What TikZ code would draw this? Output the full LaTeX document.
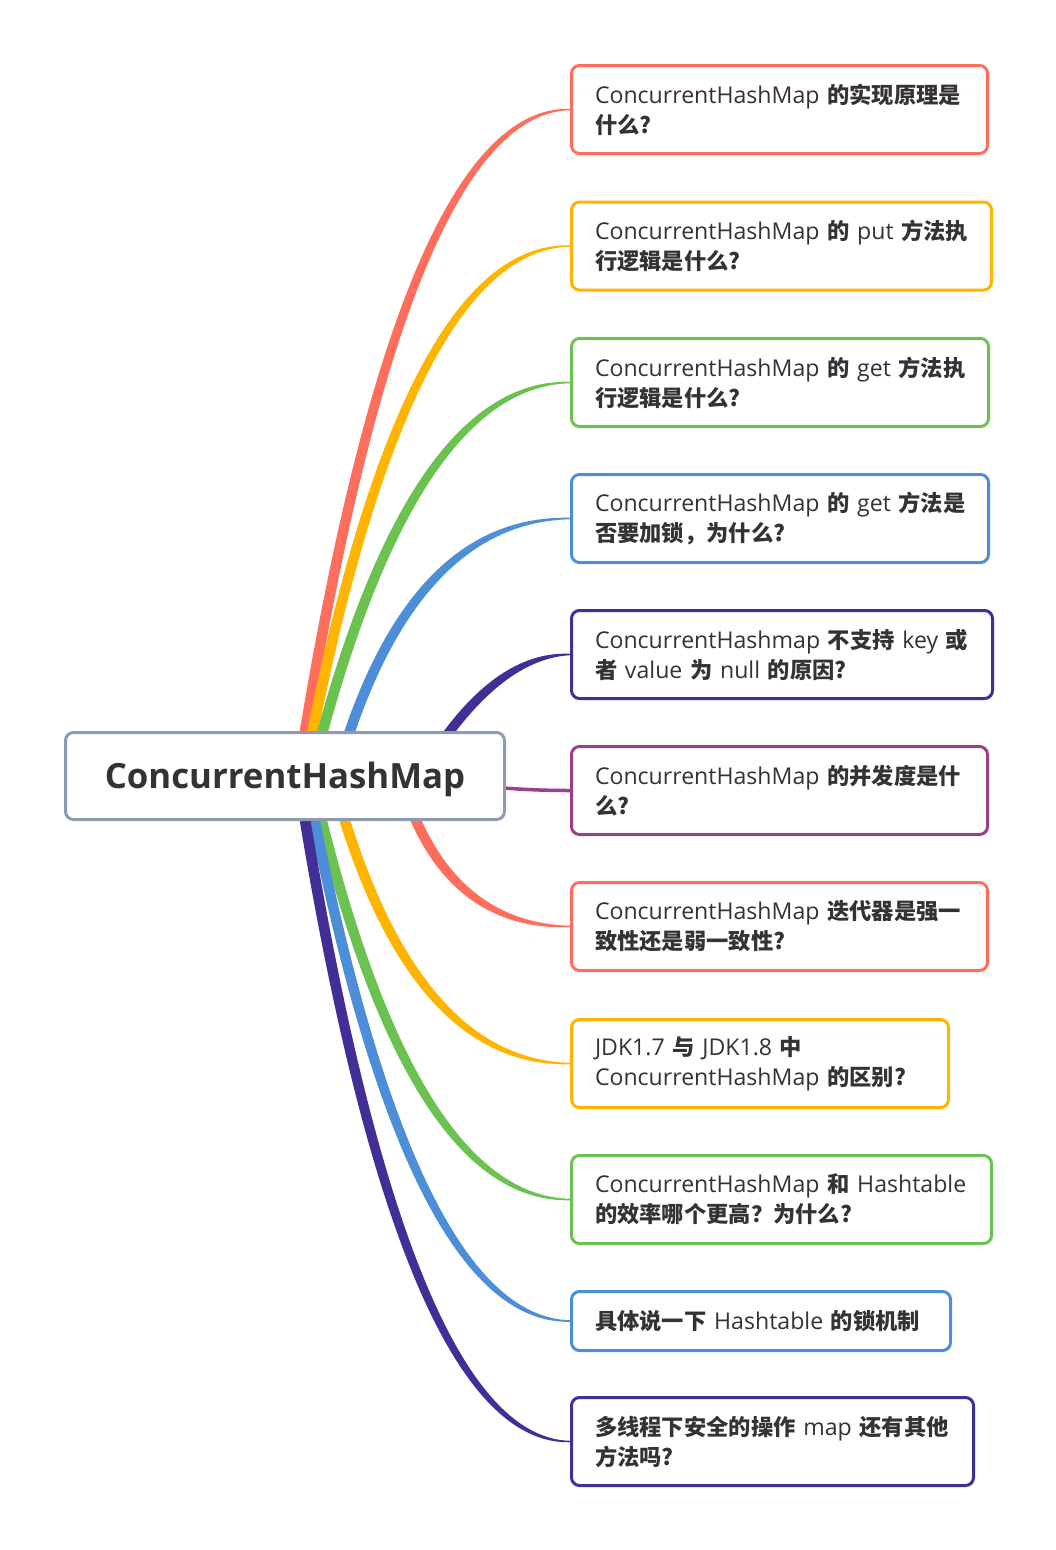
\documentclass[tikz,border=0pt]{standalone}
\usepackage{fontspec}
\setmainfont{Open Sans}
\newfontfamily\cjk{Noto Sans CJK SC}[Scale=0.965]
\usetikzlibrary{calc,backgrounds}
\definecolor{cred}{HTML}{FF6E5D}
\definecolor{cyellow}{HTML}{FFB400}
\definecolor{cgreen}{HTML}{6CC251}
\definecolor{cblue}{HTML}{4D8ED9}
\definecolor{cpurple}{HTML}{422E96}
\definecolor{cmagenta}{HTML}{9A4088}
\definecolor{rootc}{HTML}{8C9BB0}
\definecolor{textc}{HTML}{333333}
\newcommand\zh[1]{{\cjk\bfseries #1}}
% #1 colour, #2 target node, #3 start x offset, #4 control x offset, #5 start width, #6 direction (-1 up, 1 down)
\newcommand\branch[6]{%
  \coordinate (So) at ($(root.center)+({#3-#5/2},0)$);
  \coordinate (Si) at ($(root.center)+({#3+#5/2},0)$);
  \coordinate (Co) at ($(root.center |- #2.west)+({#4-4.5},{#6*4.5})$);
  \coordinate (Ci) at ($(root.center |- #2.west)+({#4+4.5},{-#6*4.5})$);
  \coordinate (Eo) at ($(#2.west)+(0,{#6*0.75})$);
  \coordinate (Ei) at ($(#2.west)+(0,{-#6*0.75})$);
  \fill[#1] (So) .. controls ($(So)!2/3!(Co)$) and ($(Eo)!2/3!(Co)$) .. (Eo)
    -- (Ei) .. controls ($(Ei)!2/3!(Ci)$) and ($(Si)!2/3!(Ci)$) .. (Si) -- cycle;
}
\begin{document}
\begin{tikzpicture}[x=1pt,y=-1pt,
  box/.style={draw=#1, line width=3pt, rounded corners=8pt, fill=white,
    minimum height=88pt, inner xsep=23.5pt, inner ysep=0pt, align=left,
    text=textc, font=\fontsize{23.1pt}{30pt}\selectfont, anchor=west},
  rootbox/.style={draw=rootc, line width=3pt, rounded corners=8pt, fill=white,
    minimum width=439pt, minimum height=87pt, inner sep=0pt, text=textc,
    text height=25pt, text depth=1pt,
    font=\fontsize{34.8pt}{40pt}\selectfont\bfseries}
]
\useasboundingbox (0,0) rectangle (1056,1550);

\node[rootbox] (root) at (285,776) {ConcurrentHashMap};

\node[box=cred, minimum width=416pt, text width=369pt] (b1) at (570,109.5)
  {\mbox{ConcurrentHashMap \zh{的实现原理是}}\\\mbox{\zh{什么?}}};
\node[box=cyellow, minimum width=420pt, text width=373pt] (b2) at (570,246)
  {\mbox{ConcurrentHashMap \zh{的} put \zh{方法执}}\\\mbox{\zh{行逻辑是什么?}}};
\node[box=cgreen, minimum width=417pt, text width=370pt] (b3) at (570,382.5)
  {\mbox{ConcurrentHashMap \zh{的} get \zh{方法执}}\\\mbox{\zh{行逻辑是什么?}}};
\node[box=cblue, minimum width=417pt, text width=370pt] (b4) at (570,518.5)
  {\mbox{ConcurrentHashMap \zh{的} get \zh{方法是}}\\\mbox{\zh{否要加锁，为什么?}}};
\node[box=cpurple, minimum width=421pt, text width=374pt] (b5) at (570,654.5)
  {\mbox{ConcurrentHashmap \zh{不支持} key \zh{或}}\\\mbox{\zh{者} value \zh{为} null \zh{的原因?}}};
\node[box=cmagenta, minimum width=416pt, text width=369pt] (b6) at (570,790.5)
  {\mbox{ConcurrentHashMap \zh{的并发度是什}}\\\mbox{\zh{么?}}};
\node[box=cred, minimum width=416pt, text width=369pt] (b7) at (570,926.5)
  {\mbox{ConcurrentHashMap \zh{迭代器是强一}}\\\mbox{\zh{致性还是弱一致性?}}};
\node[box=cyellow, minimum width=377pt, text width=330pt] (b8) at (570,1063.5)
  {\mbox{JDK1.7 \zh{与} JDK1.8 \zh{中}}\\\mbox{ConcurrentHashMap \zh{的区别?}}};
\node[box=cgreen, minimum width=420pt, text width=373pt] (b9) at (570,1199.5)
  {\mbox{ConcurrentHashMap \zh{和} Hashtable}\\\mbox{\zh{的效率哪个更高？为什么?}}};
\node[box=cblue, minimum width=379pt, text width=332pt, minimum height=59pt] (b10) at (570,1321)
  {\mbox{\zh{具体说一下} Hashtable \zh{的锁机制}}};
\node[box=cpurple, minimum width=402pt, text width=355pt] (b11) at (570,1441.5)
  {\mbox{\zh{多线程下安全的操作} map \zh{还有其他}}\\\mbox{\zh{方法吗?}}};

\begin{pgfonlayer}{background}
\fill[white] (0,0) rectangle (1056,1550);
\branch{cred}{b1}{13}{117}{11}{-1}
\branch{cyellow}{b2}{19}{118}{11}{-1}
\branch{cgreen}{b3}{26}{124}{11}{-1}
\branch{cblue}{b4}{51}{123}{11}{-1}
\branch{cpurple}{b5}{135}{207}{11}{-1}
\branch{cred}{b7}{115}{158}{11}{1}
\branch{cyellow}{b8}{47}{123}{11}{1}
\branch{cgreen}{b9}{26}{123}{11}{1}
\branch{cblue}{b10}{21}{123}{11}{1}
\branch{cpurple}{b11}{13}{117}{11}{1}
\draw[cmagenta, line width=3.5pt] ($(root.center)+(135,0)$) .. controls ($(root.center)+(190,12)$) and ($(b6.west)+(-40,0)$) .. (b6.west);
\end{pgfonlayer}
\end{tikzpicture}
\end{document}
